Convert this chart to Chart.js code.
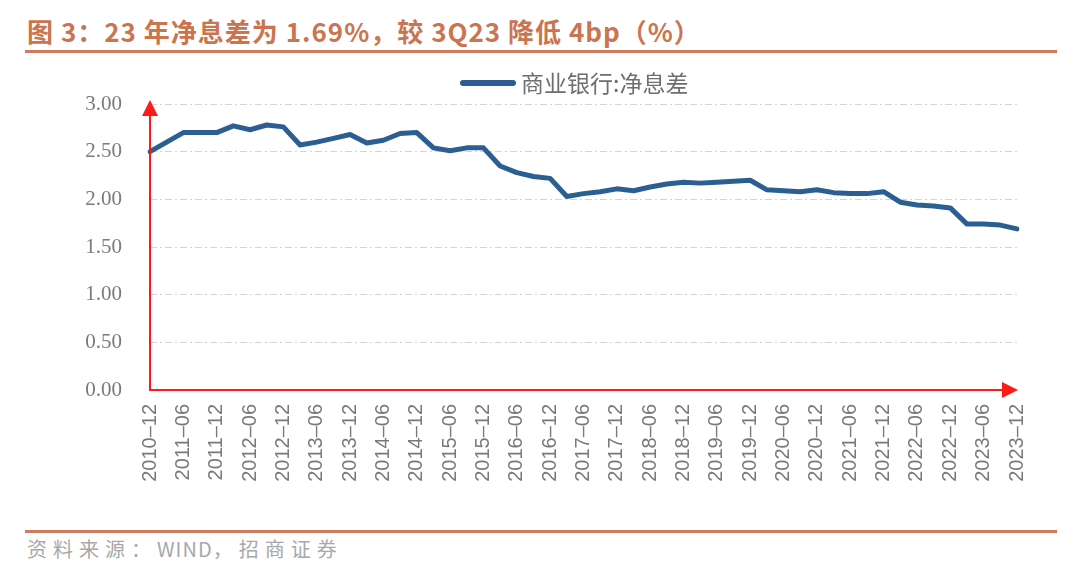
<!DOCTYPE html>
<html>
<head>
<meta charset="utf-8">
<script src="https://cdn.jsdelivr.net/npm/chart.js@4"></script>
<style>
  body { margin: 0; background: #fff; width: 1080px; height: 563px; position: relative; overflow: hidden; font-family: "Noto Sans CJK SC", "Liberation Sans", sans-serif; }
  #title { position: absolute; left: 27px; top: 12px; font-size: 26px; font-weight: bold; color: #ca7550; white-space: nowrap; letter-spacing: 1px; }
  #titleLine { position: absolute; left: 25px; top: 50px; width: 1032px; height: 3px; background: #d07b5b; }
  #footLine { position: absolute; left: 25px; top: 530px; width: 1032px; height: 3px; background: #d07b5b; }
  #source { position: absolute; left: 27px; top: 534px; font-size: 20px; color: #a8a8a8; white-space: nowrap; letter-spacing: 6px; }
  #source span { letter-spacing: 1px; }
  #wrap { position: absolute; left: 0; top: 60px; width: 1080px; height: 460px; }
</style>
</head>
<body>
<div id="title">图 3：23 年净息差为 1.69%，较 3Q23 降低 4bp（%）</div>
<div id="titleLine"></div>
<div id="wrap"><canvas id="nimChart"></canvas></div>
<div id="footLine"></div>
<div id="source">资料来源：<span>WIND</span>，招商证券</div>

<script>
// 季度数据 2010-12 ~ 2023-12
const quarters = [
  '2010-12', '2011-03', '2011-06', '2011-09', '2011-12',
  '2012-03', '2012-06', '2012-09', '2012-12',
  '2013-03', '2013-06', '2013-09', '2013-12',
  '2014-03', '2014-06', '2014-09', '2014-12',
  '2015-03', '2015-06', '2015-09', '2015-12',
  '2016-03', '2016-06', '2016-09', '2016-12',
  '2017-03', '2017-06', '2017-09', '2017-12',
  '2018-03', '2018-06', '2018-09', '2018-12',
  '2019-03', '2019-06', '2019-09', '2019-12',
  '2020-03', '2020-06', '2020-09', '2020-12',
  '2021-03', '2021-06', '2021-09', '2021-12',
  '2022-03', '2022-06', '2022-09', '2022-12',
  '2023-03', '2023-06', '2023-09', '2023-12'
];

const netInterestMargin = [
  2.50, 2.60, 2.70, 2.70, 2.70,
  2.77, 2.73, 2.78, 2.76,
  2.57, 2.60, 2.64, 2.68,
  2.59, 2.62, 2.69, 2.70,
  2.54, 2.51, 2.54, 2.54,
  2.35, 2.28, 2.24, 2.22,
  2.03, 2.06, 2.08, 2.11,
  2.09, 2.13, 2.16, 2.18,
  2.17, 2.18, 2.19, 2.20,
  2.10, 2.09, 2.08, 2.10,
  2.07, 2.06, 2.06, 2.08,
  1.97, 1.94, 1.93, 1.91,
  1.74, 1.74, 1.73, 1.69
];

const yTicks = [0, 0.5, 1, 1.5, 2, 2.5, 3];
const seriesName = '商业银行:净息差';

const lineColor = '#2b5f91';
const axisRed = '#ff1a1a';

// 红色坐标轴 + 箭头
const redAxes = {
    id: 'redAxes',
    afterDatasetsDraw(chart) {
        const { ctx, chartArea } = chart;
        const left = chartArea.left, bottom = chartArea.bottom;
        const top = chartArea.top, right = chartArea.right;
        ctx.save();
        ctx.strokeStyle = axisRed;
        ctx.fillStyle = axisRed;
        ctx.lineWidth = 2;
        ctx.beginPath();
        ctx.moveTo(left, top + 10);
        ctx.lineTo(left, bottom);
        ctx.lineTo(right - 12, bottom);
        ctx.stroke();
        // 上箭头
        ctx.beginPath();
        ctx.moveTo(left, top - 4);
        ctx.lineTo(left - 8, top + 12);
        ctx.lineTo(left + 8, top + 12);
        ctx.closePath();
        ctx.fill();
        // 右箭头
        ctx.beginPath();
        ctx.moveTo(right + 1, bottom);
        ctx.lineTo(right - 15, bottom - 8);
        ctx.lineTo(right - 15, bottom + 8);
        ctx.closePath();
        ctx.fill();
        ctx.restore();
    }
};

// 图例（手动画，位置偏右）
const topLegend = {
    id: 'topLegend',
    afterDraw(chart) {
        const ctx = chart.ctx;
        const y = 23;
        ctx.save();
        ctx.strokeStyle = lineColor;
        ctx.lineWidth = 6;
        ctx.lineCap = 'round';
        ctx.beginPath();
        ctx.moveTo(463, y);
        ctx.lineTo(513, y);
        ctx.stroke();
        ctx.fillStyle = '#6e6e6e';
        ctx.font = '23px "Noto Sans CJK SC", sans-serif';
        ctx.textBaseline = 'middle';
        ctx.fillText(seriesName, 521, y);
        ctx.restore();
    }
};

const ctx = document.getElementById('nimChart').getContext('2d');
new Chart(ctx, {
    type: 'line',
    data: {
        labels: quarters,
        datasets: [{
            label: seriesName,
            data: netInterestMargin,
            borderColor: lineColor,
            backgroundColor: lineColor,
            borderWidth: 5,
            pointRadius: 0,
            tension: 0,
            borderJoinStyle: 'round',
            borderCapStyle: 'round'
        }]
    },
    options: {
        responsive: true,
        maintainAspectRatio: false,
        animation: false,
        layout: { padding: { left: 0, right: 63, top: 44, bottom: 0 } },
        plugins: {
            legend: { display: false },
            tooltip: { enabled: false }
        },
        scales: {
            x: {
                type: 'category',
                offset: false,
                grid: { display: false, drawTicks: false },
                border: { display: false },
                ticks: {
                    autoSkip: false,
                    maxRotation: 90,
                    minRotation: 90,
                    padding: 14,
                    color: '#7a7a7a',
                    font: { size: 20, family: '"Liberation Sans", Arial, sans-serif' },
                    callback: function(val, index) {
                        return index % 2 === 0 ? quarters[index].replace('-', '–') : '';
                    }
                },
                afterFit: scale => { scale.height = 130; }
            },
            y: {
                min: 0,
                max: 3,
                grid: {
                    color: '#d4d4d4',
                    lineWidth: 1,
                    drawTicks: false
                },
                border: { display: false, dash: [7, 3, 2, 3] },
                ticks: {
                    stepSize: 0.5,
                    padding: 28,
                    color: '#7a7a7a',
                    font: { size: 21, family: '"Liberation Serif", "Times New Roman", serif' },
                    callback: v => yTicks.includes(v) ? v.toFixed(2) : ''
                },
                afterFit: scale => { scale.width = 150; }
            }
        }
    },
    plugins: [redAxes, topLegend]
});
</script>
</body>
</html>
